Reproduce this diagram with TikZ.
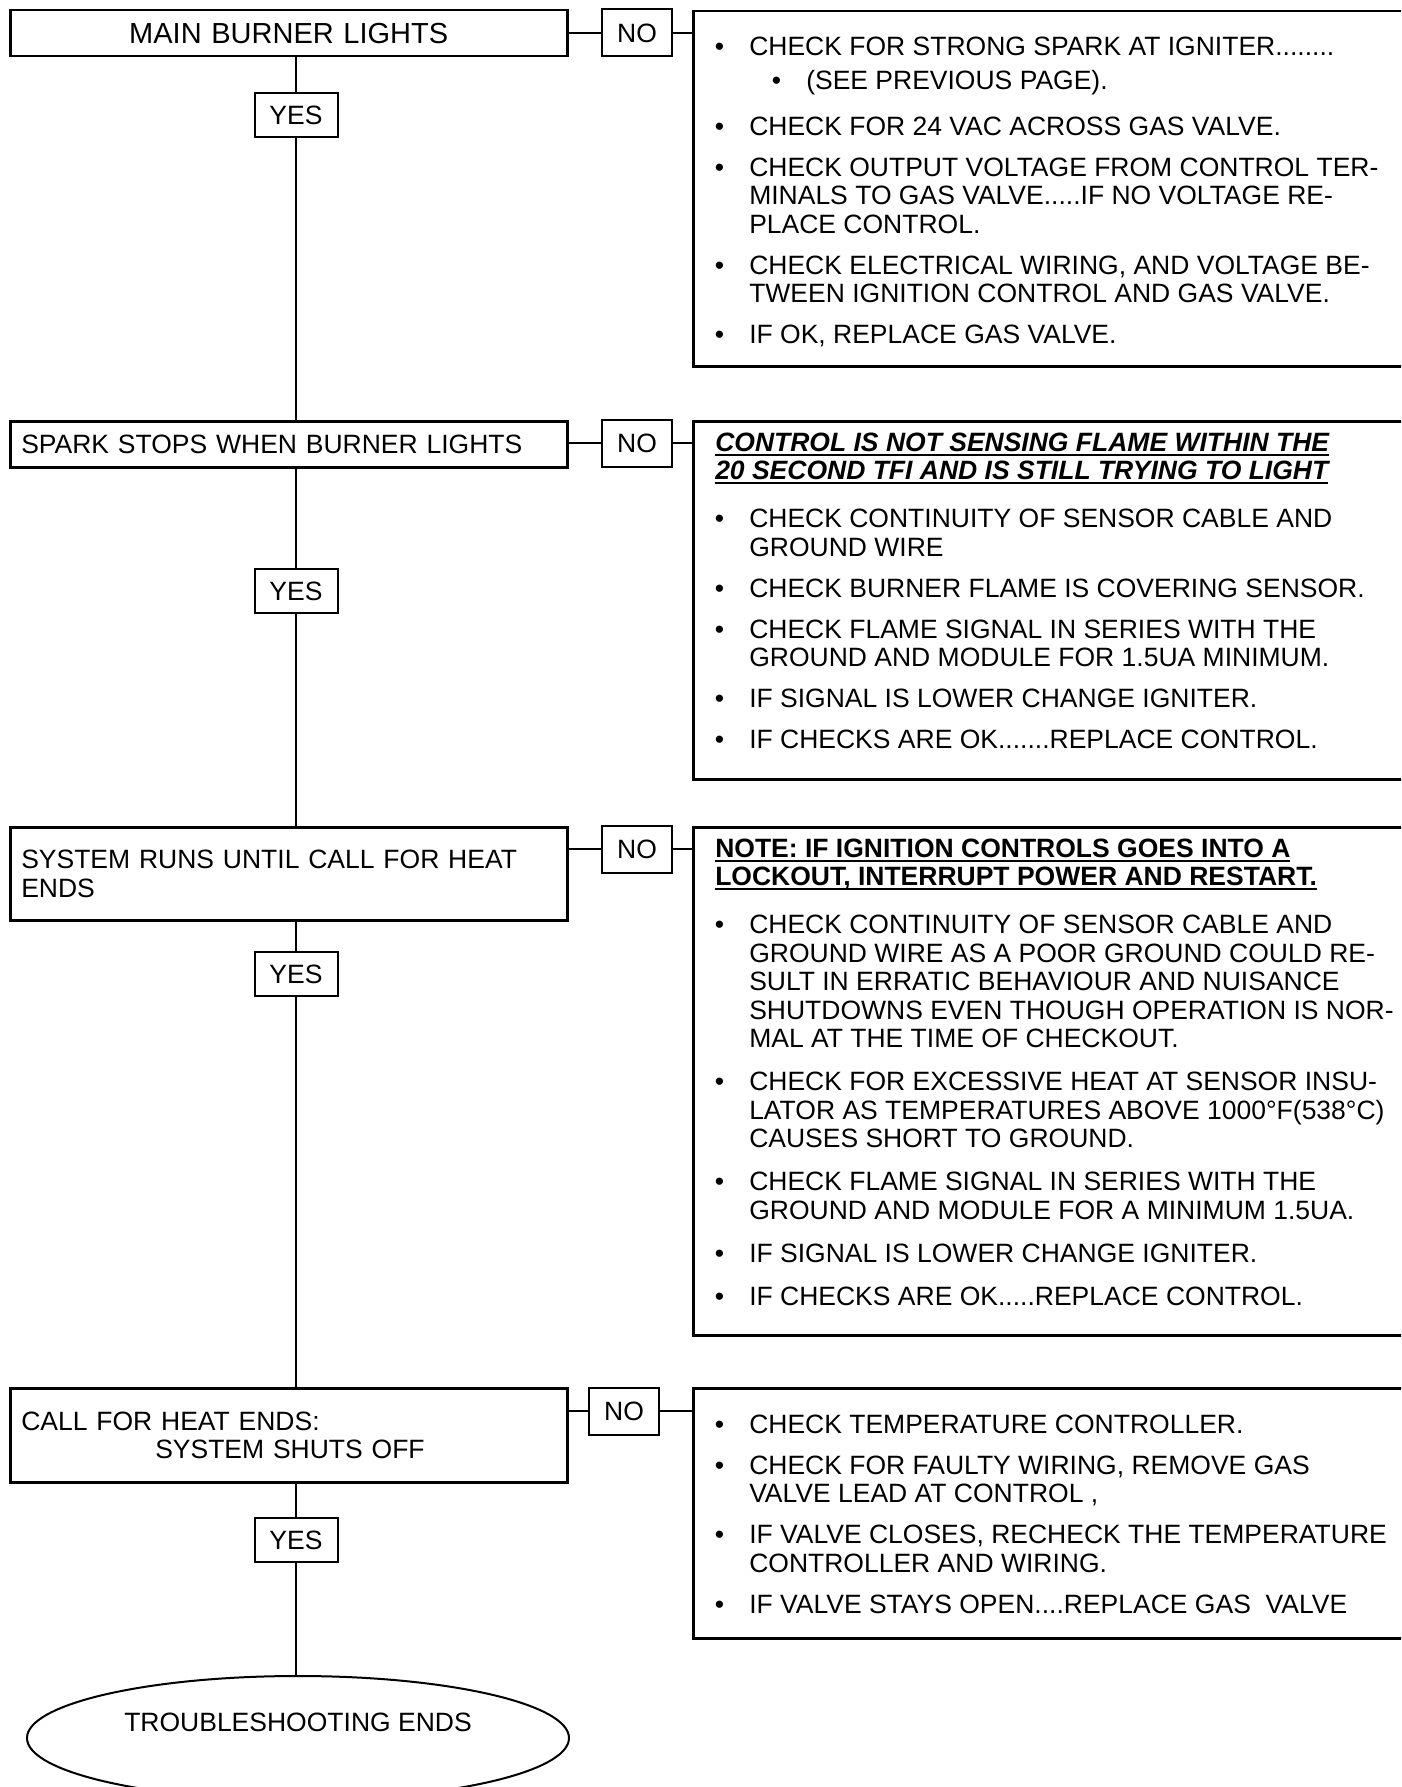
\documentclass[tikz,border=0pt]{standalone}
\usepackage{fontspec}
\setmainfont{Liberation Sans}
\usetikzlibrary{shapes.geometric}

% bullet list used in the right hand boxes
\newcommand{\checksep}{12.5pt}
\newenvironment{checks}[2][56pt]{%
  \begin{list}{\textbullet}{\setlength{\leftmargin}{#1}\setlength{\labelsep}{25pt}%
    \setlength{\labelwidth}{20pt}\setlength{\itemsep}{\checksep}\setlength{\parsep}{0pt}%
    \setlength{\topsep}{#2}\setlength{\partopsep}{0pt}\setlength{\itemindent}{0pt}}}%
  {\end{list}}
\newenvironment{fixtext}{\begin{minipage}[t]{740pt}\raggedright}{\end{minipage}}
\newcommand{\headline}[1]{{\leftskip=22pt #1\par}\kern7pt}
\newcommand{\uln}[1]{\leavevmode\setbox0\hbox{#1}\rlap{\rule[-4.5pt]{\wd0}{2pt}}\box0}

\begin{document}
\begin{tikzpicture}[
        x=1pt, y=-1pt,
        every node/.style={font=\fontsize{26.5}{28.5}\selectfont},
        stepbox/.style={draw, line width=2.5pt, anchor=north west, minimum height=46pt, text width=535pt, inner xsep=11pt, inner ysep=0pt, align=left},
        reply/.style={draw, line width=2pt, inner sep=0pt, minimum height=44pt},
        yesbox/.style={reply, minimum width=83pt},
        nobox/.style={reply, minimum width=70pt, minimum height=47pt},
        fixbox/.style={draw, line width=2.5pt, anchor=north west, inner sep=0pt},
        endoval/.style={draw, ellipse, line width=2pt, inner sep=0pt, minimum width=542pt, minimum height=124pt},
        link/.style={line width=2pt}
    ]
        \useasboundingbox (0,0) rectangle (1401,1787);
        \clip (0,0) rectangle (1401,1787);
        \fill[white] (0,0) rectangle (1401,1787);

        % decisions on the left
        \node[stepbox, align=center, font=\fontsize{29}{31}\selectfont] (burner) at (9,9) {MAIN BURNER LIGHTS};
        \node[stepbox] (spark) at (9,420) {SPARK STOPS WHEN BURNER LIGHTS};
        \node[stepbox, minimum height=93pt] (runs) at (9,826) {SYSTEM RUNS UNTIL CALL FOR HEAT\\ENDS};
        \node[stepbox, minimum height=94pt] (calloff) at (9,1387) {CALL FOR HEAT ENDS:\\\hspace*{134pt}SYSTEM SHUTS OFF};
        \node[endoval, text height=19pt, text depth=33pt] (finish) at (298,1738) {TROUBLESHOOTING ENDS};

        \node[yesbox] (yes1) at (296,115) {YES};
        \node[yesbox] (yes2) at (296,591) {YES};
        \node[yesbox] (yes3) at (296,974) {YES};
        \node[yesbox] (yes4) at (296,1540) {YES};

        \node[nobox] (no1) at (637,33) {NO};
        \node[nobox] (no2) at (637,443) {NO};
        \node[nobox] (no3) at (637,849) {NO};
        \node[nobox] (no4) at (624,1411) {NO};

        % what to check when the answer is no
        \node[fixbox, text height=44pt, text depth=311pt] (fix1) at (692,10) {\begin{fixtext}
            \begin{checks}{12.5pt}
            \item CHECK FOR STRONG SPARK AT IGNITER........
                \begin{checks}[57pt]{6pt}
                \item (SEE PREVIOUS PAGE).
                \end{checks}
                \vspace{-1.5pt}
            \item CHECK FOR 24 VAC ACROSS GAS VALVE.
            \item CHECK OUTPUT VOLTAGE FROM CONTROL TER-\\MINALS TO GAS VALVE.....IF NO VOLTAGE RE-\\PLACE CONTROL.
            \item CHECK ELECTRICAL WIRING, AND VOLTAGE BE-\\TWEEN IGNITION CONTROL AND GAS VALVE.
            \item IF OK, REPLACE GAS VALVE.
            \end{checks}
        \end{fixtext}};

        \node[fixbox, text height=30pt, text depth=328pt] (fix2) at (692,420) {\begin{fixtext}
            \headline{\uln{\bfseries\itshape CONTROL IS NOT SENSING FLAME WITHIN THE}\\
                \uln{\bfseries\itshape 20 SECOND TFI AND IS STILL TRYING TO LIGHT}}
            \begin{checks}{12.5pt}
            \item CHECK CONTINUITY OF SENSOR CABLE AND\\GROUND WIRE
            \item CHECK BURNER FLAME IS COVERING SENSOR.
            \item CHECK FLAME SIGNAL IN SERIES WITH THE\\GROUND AND MODULE FOR 1.5UA MINIMUM.
            \item IF SIGNAL IS LOWER CHANGE IGNITER.
            \item IF CHECKS ARE OK.......REPLACE CONTROL.
            \end{checks}
        \end{fixtext}};

        \node[fixbox, text height=30pt, text depth=478pt] (fix3) at (692,826) {\begin{fixtext}
            \renewcommand{\checksep}{14.5pt}
            \headline{\uln{\bfseries NOTE: IF IGNITION CONTROLS GOES INTO A}\\
                \uln{\bfseries LOCKOUT, INTERRUPT POWER AND RESTART.}}
            \begin{checks}{12.5pt}
            \item CHECK CONTINUITY OF SENSOR CABLE AND\\GROUND WIRE AS A POOR GROUND COULD RE-\\SULT IN ERRATIC BEHAVIOUR AND NUISANCE\\SHUTDOWNS EVEN THOUGH OPERATION IS NOR-\\MAL AT THE TIME OF CHECKOUT.
            \item CHECK FOR EXCESSIVE HEAT AT SENSOR INSU-\\LATOR AS TEMPERATURES ABOVE 1000°F(538°C)\\CAUSES SHORT TO GROUND.
            \item CHECK FLAME SIGNAL IN SERIES WITH THE\\GROUND AND MODULE FOR A MINIMUM 1.5UA.
            \item IF SIGNAL IS LOWER CHANGE IGNITER.
            \item IF CHECKS ARE OK.....REPLACE CONTROL.
            \end{checks}
        \end{fixtext}};

        \node[fixbox, text height=45pt, text depth=205pt] (fix4) at (692,1387) {\begin{fixtext}
            \begin{checks}{12.5pt}
            \item CHECK TEMPERATURE CONTROLLER.
            \item CHECK FOR FAULTY WIRING, REMOVE GAS\\VALVE LEAD AT CONTROL ,
            \item IF VALVE CLOSES, RECHECK THE TEMPERATURE\\CONTROLLER AND WIRING.
            \item IF VALVE STAYS OPEN....REPLACE GAS~~VALVE
            \end{checks}
        \end{fixtext}};

        % yes path
        \draw[link] (burner.south -| yes1) -- (yes1);
        \draw[link] (yes1) -- (spark.north -| yes1);
        \draw[link] (spark.south -| yes2) -- (yes2);
        \draw[link] (yes2) -- (runs.north -| yes2);
        \draw[link] (runs.south -| yes3) -- (yes3);
        \draw[link] (yes3) -- (calloff.north -| yes3);
        \draw[link] (calloff.south -| yes4) -- (yes4);
        \draw[link] (yes4.south) -- (yes4.south |- finish.north);

        % no branches
        \draw[link] (no1.west -| burner.east) -- (no1.west);
        \draw[link] (no1.east) -- (no1.east -| fix1.west);
        \draw[link] (no2.west -| spark.east) -- (no2.west);
        \draw[link] (no2.east) -- (no2.east -| fix2.west);
        \draw[link] (no3.west -| runs.east) -- (no3.west);
        \draw[link] (no3.east) -- (no3.east -| fix3.west);
        \draw[link] (no4.west -| calloff.east) -- (no4.west);
        \draw[link] (no4.east) -- (no4.east -| fix4.west);
    \end{tikzpicture}
\end{document}
